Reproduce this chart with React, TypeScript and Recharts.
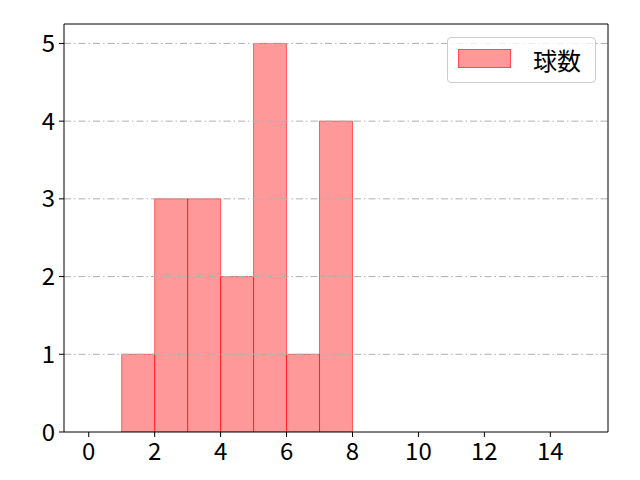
import React from 'react';
import { ComposedChart, Bar, XAxis, YAxis, ReferenceLine, Legend } from 'recharts';

const binStarts = [1, 2, 3, 4, 5, 6, 7];
const counts = [1, 3, 3, 2, 5, 1, 4];
const xTicks = [0, 2, 4, 6, 8, 10, 12, 14];
const yTicks = [0, 1, 2, 3, 4, 5];
const gridLevels = [1, 2, 3, 4, 5];
const seriesName = '球数';

const data = binStarts.map((s, i) => ({ x: s + 0.5, count: counts[i] }));

const FONT = '"Noto Sans CJK JP", "Noto Sans", sans-serif';
const FS = 24;

const LegendBox = (props: any) => {
  const item = props.payload && props.payload[0];
  const name = item ? item.value : seriesName;
  return (
    <div
      style={{
        width: 149,
        height: 46,
        boxSizing: 'border-box',
        border: '1px solid #cccccc',
        borderRadius: 4,
        background: 'rgba(255,255,255,0.8)',
        position: 'relative',
        fontFamily: FONT,
      }}
    >
      <div
        style={{
          position: 'absolute',
          left: 10,
          top: 11,
          width: 53,
          height: 19,
          boxSizing: 'border-box',
          background: 'rgba(255,0,0,0.4)',
          border: '1px solid rgba(255,0,0,0.5)',
        }}
      />
      <div
        style={{
          position: 'absolute',
          left: 85,
          top: 0,
          height: 44,
          lineHeight: '44px',
          fontSize: FS,
          color: '#000',
        }}
      >
        {name}
      </div>
    </div>
  );
};

export default function App() {
  return (
    <div style={{ position: 'absolute', left: 0, top: 0, width: 640, height: 480, background: '#fff' }}>
      <ComposedChart
        width={640}
        height={480}
        data={data}
        margin={{ top: 24, right: 32, left: 0, bottom: 0 }}
        barCategoryGap={0}
        barGap={0}
      >
        <XAxis
          dataKey="x"
          type="number"
          domain={[-0.75, 15.75]}
          allowDataOverflow
          ticks={xTicks}
          interval={0}
          height={48}
          stroke="#000"
          tickSize={5}
          tickMargin={6}
          tick={{ fill: '#000', fontSize: FS, fontFamily: FONT }}
        />
        <YAxis
          type="number"
          domain={[0, 5.25]}
          allowDataOverflow
          ticks={yTicks}
          interval={0}
          width={64}
          stroke="#000"
          tickSize={5}
          tickMargin={4}
          tick={{ fill: '#000', fontSize: FS, fontFamily: FONT }}
        />
        <Bar
          dataKey="count"
          name={seriesName}
          fill="rgba(255,0,0,0.4)"
          stroke="rgba(255,0,0,0.55)"
          strokeWidth={1}
          isAnimationActive={false}
        />
        {gridLevels.map((v) => (
          <ReferenceLine
            key={v}
            y={v}
            stroke="#b0b0b0"
            strokeWidth={1}
            strokeDasharray="7 3 1.5 3"
          />
        ))}
        <ReferenceLine x={15.75} stroke="#000" strokeWidth={1} ifOverflow="extendDomain" />
        <ReferenceLine y={5.25} stroke="#000" strokeWidth={1} ifOverflow="extendDomain" />
        <Legend
          layout="horizontal"
          verticalAlign="middle"
          align="center"
          content={<LegendBox />}
          wrapperStyle={{ position: 'absolute', left: 447, top: 37, width: 149, height: 46 }}
        />
      </ComposedChart>
    </div>
  );
}
